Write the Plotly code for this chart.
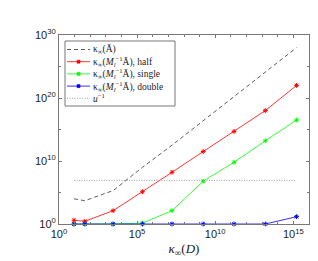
import plotly.graph_objects as go

kappa_D = [9.1, 45, 2.9e3, 2.2e5, 1.7e7, 1.7e9, 1.6e11, 1.6e13, 1.6e15]
kappa_A = [1.0e4, 5.0e3, 2.0e5, 1.0e9, 3.2e12, 2.5e16, 1.6e20, 1.3e24, 1.0e28]
half = [3.9, 2.7, 1.3e2, 1.3e5, 1.6e8, 3.2e11, 5.0e14, 1.0e18, 1.0e22]
single = [1.0, 1.0, 1.0, 1.4, 1.3e2, 6.3e6, 6.3e9, 1.6e13, 3.2e16]
double = [1.0, 1.0, 1.0, 1.0, 1.0, 1.0, 1.0, 1.0, 14.5]
u_inv = 8.4e6

names = ["κ<sub>∞</sub>(Ā)",
         "κ<sub>∞</sub>(<i>M</i><sub><i>l</i></sub><sup>−1</sup>Ā), half",
         "κ<sub>∞</sub>(<i>M</i><sub><i>l</i></sub><sup>−1</sup>Ā), single",
         "κ<sub>∞</sub>(<i>M</i><sub><i>l</i></sub><sup>−1</sup>Ā), double",
         "<i>u</i><sup>−1</sup>"]
colors = ["#333333", "#ff0000", "#00ff00", "#0000ff", "#888888"]
dashes = ["4px,3px", "solid", "solid", "solid", "1px,1.5px"]
has_marker = [False, True, True, True, False]

serif = "Liberation Serif"
fig = go.Figure()
fig.add_trace(go.Scatter(x=kappa_D, y=kappa_A, mode="lines",
                         line=dict(color=colors[0], width=0.8, dash=dashes[0]),
                         name=names[0], cliponaxis=False))
for ys, i in [(half, 1), (single, 2), (double, 3)]:
    fig.add_trace(go.Scatter(x=kappa_D, y=ys, mode="lines+markers",
                             line=dict(color=colors[i], width=0.8),
                             marker=dict(symbol="asterisk-open", size=4, color=colors[i],
                                         line=dict(color=colors[i], width=1)),
                             name=names[i], cliponaxis=False))
fig.add_trace(go.Scatter(x=[kappa_D[0], kappa_D[-1]], y=[u_inv, u_inv], mode="lines",
                         line=dict(color=colors[4], width=0.8, dash=dashes[4]),
                         name=names[4]))

axis_common = dict(type="log", showgrid=False, zeroline=False, showline=True,
                   linecolor="#777", linewidth=1, mirror="ticks", ticks="inside",
                   ticklen=3, tickcolor="#777", tickfont=dict(family="Liberation Sans", size=11, color="#222"))
fig.update_xaxes(range=[0, 16], tickvals=[1, 1e5, 1e10, 1e15],
                 ticktext=["10<sup>0</sup>", "10<sup>5</sup>", "10<sup>10</sup>", "10<sup>15</sup>"],
                 minor=dict(tickvals=[10**k for k in range(1, 17) if k % 5], ticks="inside",
                            ticklen=2, tickcolor="#777"),
                 title=dict(text="<i>κ</i><sub>∞</sub>(<i>D</i>)", font=dict(family=serif, size=13, color="#222"),
                            standoff=4),
                 **axis_common)
fig.update_yaxes(range=[0, 30], tickvals=[1, 1e10, 1e20, 1e30],
                 ticktext=["10<sup>0</sup>", "10<sup>10</sup>", "10<sup>20</sup>", "10<sup>30</sup>"],
                 minor=dict(tickvals=[1e5, 1e15, 1e25], ticks="inside", ticklen=2, tickcolor="#777"),
                 **axis_common)

# Custom compact legend (MATLAB style)
W, H = 250.0, 189.0          # plot area size in px
px = lambda v: v / W
py = lambda v: v / H
box_l, box_t, box_r, box_b = 6, 6, 116, 71   # px offsets from plot top-left
shapes = [dict(type="rect", xref="paper", yref="paper",
               x0=px(box_l), x1=px(box_r), y0=1 - py(box_t), y1=1 - py(box_b),
               line=dict(color="#777", width=1), fillcolor="white", layer="above")]
annotations = []
row0, step = 14.5, 12.2
for i, nm in enumerate(names):
    yc = 1 - py(row0 + i * step)
    shapes.append(dict(type="line", xref="paper", yref="paper", x0=px(8), x1=px(31), y0=yc, y1=yc,
                       line=dict(color=colors[i], width=0.8, dash=dashes[i]), layer="above"))
    if has_marker[i]:
        shapes.append(dict(type="rect", xref="paper", yref="paper", xsizemode="pixel", ysizemode="pixel",
                           xanchor=px(19.5), yanchor=yc, x0=-1.5, x1=1.5, y0=-1.5, y1=1.5,
                           line=dict(color=colors[i], width=0.6), fillcolor=colors[i], layer="above"))
    annotations.append(dict(xref="paper", yref="paper", x=px(32), y=yc, xanchor="left", yanchor="middle",
                            text=nm, showarrow=False,
                            font=dict(family=serif, size=9.5, color="#222")))

fig.update_layout(width=318, height=261, margin=dict(l=51, r=17, t=27, b=45),
                  paper_bgcolor="white", plot_bgcolor="white",
                  showlegend=False, shapes=shapes, annotations=annotations)
fig.write_html("out.html")
